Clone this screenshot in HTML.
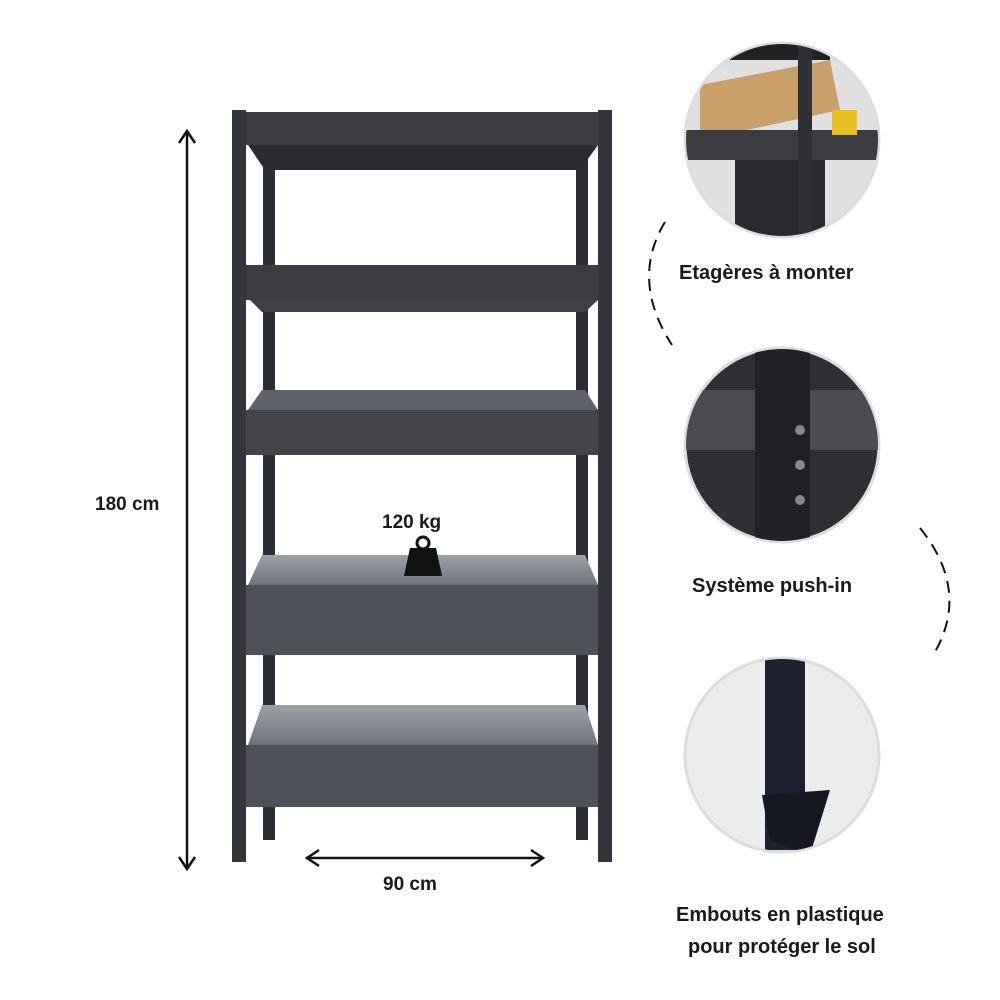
<!DOCTYPE html>
<html><head><meta charset="utf-8"><style>
body{margin:0;background:#fff;}
svg{display:block}
text{font-family:"Liberation Sans",sans-serif;fill:#1a1a1a}
</style></head><body>
<svg width="1000" height="1000" viewBox="0 0 1000 1000" xmlns="http://www.w3.org/2000/svg">
<defs>
<linearGradient id="sh" x1="0" y1="0" x2="0" y2="1"><stop offset="0" stop-color="#9ea1a8"/><stop offset="1" stop-color="#6f737b"/></linearGradient>
<marker id="ah" markerWidth="16" markerHeight="20" refX="12" refY="10" orient="auto-start-reverse" markerUnits="userSpaceOnUse"><path d="M1,2 L13,10 L1,18" fill="none" stroke="#111" stroke-width="2.5"/></marker>
<clipPath id="c1"><circle cx="782" cy="140" r="96"/></clipPath>
<clipPath id="c2"><circle cx="782" cy="445" r="96"/></clipPath>
<clipPath id="c3"><circle cx="782" cy="755" r="96"/></clipPath>
</defs>
<rect x="263" y="140" width="12" height="700" fill="#2c2e33"/>
<rect x="576" y="140" width="12" height="700" fill="#2c2e33"/>
<polygon points="248,145 598,145 580,170 265,170" fill="#2a2c31"/>
<polygon points="250,300 598,300 585,312 262,312" fill="#3f4147"/>
<polygon points="262,390 585,390 598,410 248,410" fill="#5f636b"/>
<polygon points="262,555 585,555 598,585 248,585" fill="url(#sh)"/>
<polygon points="262,705 585,705 598,745 248,745" fill="url(#sh)"/>
<rect x="240" y="112" width="365" height="33" fill="#3b3d43"/>
<rect x="240" y="265" width="365" height="35" fill="#3b3d43"/>
<rect x="240" y="410" width="365" height="45" fill="#42444a"/>
<rect x="240" y="585" width="365" height="70" fill="#4e5158"/>
<rect x="240" y="745" width="365" height="62" fill="#4e5158"/>
<rect x="232" y="110" width="14" height="752" fill="#34363b"/>
<rect x="598" y="110" width="14" height="752" fill="#34363b"/>
<line x1="187" y1="132" x2="187" y2="868" stroke="#111" stroke-width="2.5" marker-start="url(#ah)" marker-end="url(#ah)"/>
<line x1="308" y1="858" x2="542" y2="858" stroke="#111" stroke-width="2.5" marker-start="url(#ah)" marker-end="url(#ah)"/>
<text x="95" y="510" font-size="19" font-weight="bold">180 cm</text>
<text x="383" y="890" font-size="19" font-weight="bold">90 cm</text>
<text x="382" y="528" font-size="19" font-weight="bold">120 kg</text>
<path d="M404,576 L410,548 L436,548 L442,576 Z" fill="#111"/>
<circle cx="423" cy="543" r="6" fill="none" stroke="#111" stroke-width="3"/>
<circle cx="782" cy="140" r="97" fill="#e0e0e0" stroke="#ddd" stroke-width="3"/>
<g clip-path="url(#c1)">
<polygon points="700,85 830,60 840,110 700,140" fill="#c9a06a"/>
<rect x="730" y="40" width="100" height="20" fill="#222"/>
<rect x="685" y="130" width="200" height="30" fill="#3a3c42"/>
<rect x="735" y="160" width="90" height="80" fill="#2a2a2e"/>
<rect x="798" y="40" width="14" height="200" fill="#2e3035"/>
<rect x="832" y="110" width="25" height="25" fill="#e8c020"/>
</g>
<circle cx="782" cy="445" r="97" fill="#2e3034" stroke="#ddd" stroke-width="3"/>
<g clip-path="url(#c2)">
<rect x="685" y="390" width="200" height="60" fill="#4a4c52"/>
<rect x="755" y="340" width="55" height="210" fill="#1f2125"/>
<circle cx="800" cy="430" r="5" fill="#888"/><circle cx="800" cy="465" r="5" fill="#888"/><circle cx="800" cy="500" r="5" fill="#888"/>
</g>
<circle cx="782" cy="755" r="97" fill="#ececec" stroke="#ddd" stroke-width="3"/>
<g clip-path="url(#c3)">
<rect x="765" y="650" width="40" height="200" fill="#1e2230"/>
<polygon points="762,795 830,790 810,855 770,840" fill="#151820"/>
</g>
<path d="M665,222 Q630,280 672,345" fill="none" stroke="#111" stroke-width="2" stroke-dasharray="12,8"/>
<path d="M920,528 Q970,590 935,652" fill="none" stroke="#111" stroke-width="2" stroke-dasharray="12,8"/>
<text x="679" y="279" font-size="20" font-weight="bold">Etagères à monter</text>
<text x="692" y="592" font-size="20" font-weight="bold">Système push-in</text>
<text x="676" y="921" font-size="20" font-weight="bold">Embouts en plastique</text>
<text x="688" y="953" font-size="20" font-weight="bold">pour protéger le sol</text>
</svg>
</body></html>
